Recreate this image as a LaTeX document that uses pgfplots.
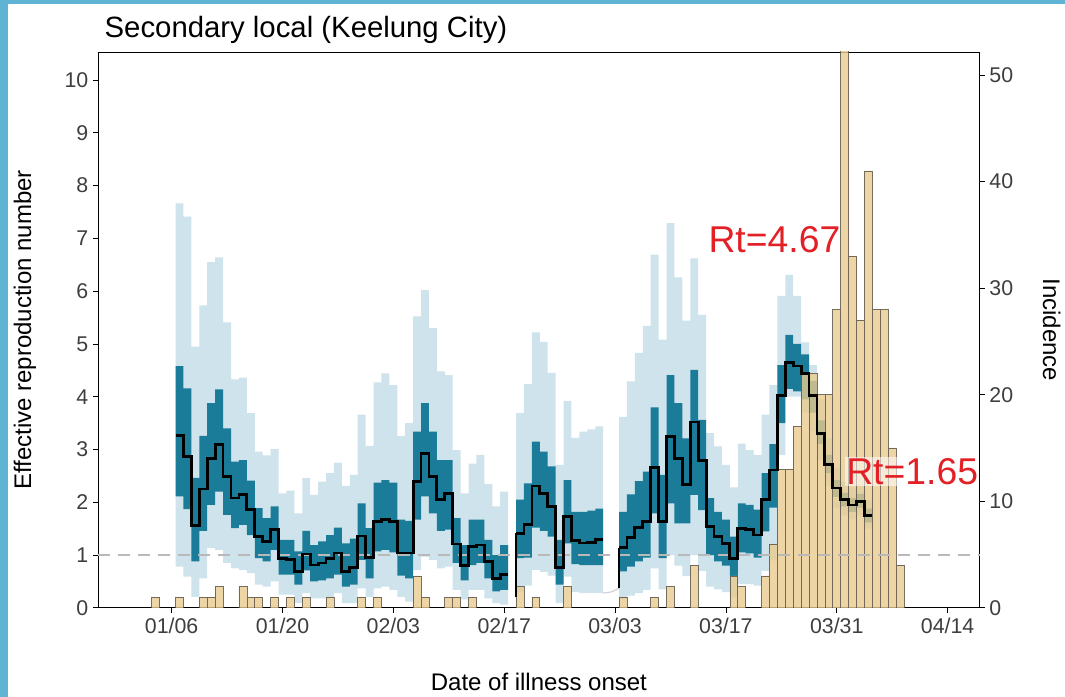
\documentclass[border=0pt]{standalone}
\usepackage{fontspec}
\setmainfont{Liberation Sans}
\usepackage{pgfplots}
\pgfplotsset{compat=1.18}
\usepackage{pgfplotstable}
\usepgfplotslibrary{fillbetween}

\definecolor{ciLight}{RGB}{206,227,235}
\definecolor{ciDark}{RGB}{27,124,153}
\definecolor{incTan}{RGB}{233,202,142}
\definecolor{incEdge}{RGB}{85,78,68}
\definecolor{rtRed}{RGB}{226,32,38}
\definecolor{tickGrey}{RGB}{62,62,62}
\definecolor{frameBlue}{RGB}{95,180,212}

% Rt estimates, one row per day (x = left edge of the day), last row closes the step
\pgfplotstableread{
x    lo95 lo50 med  hi50 hi95
6.5  0.78 2.11 3.26 4.58 7.66
7.5  0.59 1.87 2.87 4.16 7.41
8.5  0.21 0.88 1.56 2.46 4.95
9.5  0.56 1.46 2.25 3.26 5.73
10.5 1.13 1.95 2.83 3.88 6.55
11.5 1.10 2.20 3.09 4.14 6.64
12.5 0.85 1.76 2.49 3.40 5.41
13.5 0.75 1.51 2.08 2.77 4.33
14.5 0.72 1.57 2.14 2.80 4.36
15.5 0.66 1.38 1.86 2.41 3.69
16.5 0.44 0.94 1.35 1.89 2.96
17.5 0.40 0.88 1.26 1.70 2.89
18.5 0.50 1.10 1.48 1.92 3.01
19.5 0.25 0.63 0.94 1.29 2.17
20.5 0.25 0.63 0.92 1.29 2.22
21.5 0.09 0.44 0.69 1.07 1.79
22.5 0.28 0.71 1.02 1.46 2.46
23.5 0.18 0.50 0.81 1.19 2.14
24.5 0.18 0.52 0.85 1.26 2.39
25.5 0.21 0.56 0.94 1.38 2.55
26.5 0.28 0.63 1.04 1.52 2.75
27.5 0.09 0.40 0.69 1.22 2.31
28.5 0.09 0.44 0.77 1.31 2.52
29.5 0.37 0.91 1.36 1.98 3.66
30.5 0.21 0.56 0.96 1.51 3.07
31.5 0.37 1.07 1.64 2.37 4.27
32.5 0.40 1.10 1.68 2.42 4.44
33.5 0.34 1.05 1.64 2.37 4.22
34.5 0.21 0.61 1.04 1.67 3.26
35.5 0.12 0.56 1.04 1.65 3.50
36.5 0.72 1.67 2.39 3.34 5.52
37.5 0.97 2.11 2.93 3.88 6.02
38.5 0.91 1.79 2.49 3.34 5.30
39.5 0.75 1.46 2.06 2.80 4.48
40.5 0.78 1.48 2.16 2.80 4.41
41.5 0.34 0.85 1.21 1.70 2.99
42.5 0.16 0.52 0.80 1.19 2.17
43.5 0.34 0.81 1.16 1.67 2.73
44.5 0.34 0.85 1.19 1.67 2.90
45.5 0.18 0.56 0.88 1.29 2.35
46.5 0.09 0.31 0.56 1.00 1.92
47.5 0.06 0.34 0.63 1.19 2.20
48.5 0.06 0.34 0.63 1.19 2.20
}\segA

\pgfplotstableread{
x    lo95 lo50 med  hi50 hi95
49.5 0.30 0.94 1.41 2.05 3.69
50.5 0.42 0.95 1.58 2.36 4.24
51.5 0.72 1.52 2.31 3.15 5.22
52.5 0.68 1.46 2.17 2.96 5.04
53.5 0.61 1.35 1.92 2.68 4.45
54.5 0.09 0.44 0.77 1.29 2.71
55.5 0.59 1.22 1.73 2.42 3.92
56.5 0.30 0.83 1.27 1.82 3.22
57.5 0.28 0.81 1.23 1.82 3.34
58.5 0.28 0.81 1.24 1.84 3.38
59.5 0.28 0.81 1.29 1.88 3.44
60.5 0.28 0.81 1.29 1.88 3.44
}\segB

\pgfplotstableread{
x    lo95 lo50 med  hi50 hi95
62.5 0.16 0.69 1.14 1.82 3.62
63.5 0.23 0.78 1.34 2.15 4.29
64.5 0.28 0.88 1.52 2.40 4.83
65.5 0.34 0.95 1.64 2.58 5.34
66.5 0.75 1.79 2.66 3.80 6.69
67.5 0.35 0.94 1.64 2.52 5.08
68.5 1.00 1.98 3.24 4.41 7.29
69.5 0.80 1.60 2.83 3.88 6.26
70.5 0.60 1.60 2.33 3.21 5.44
71.5 1.00 2.14 3.52 4.51 6.62
72.5 0.70 1.85 2.79 3.56 5.55
73.5 0.40 1.00 1.54 2.08 3.31
74.5 0.35 0.88 1.35 1.82 3.06
75.5 0.30 0.80 1.22 1.67 2.71
76.5 0.20 0.60 0.94 1.35 2.28
77.5 0.45 1.05 1.51 1.98 3.11
78.5 0.45 1.03 1.48 1.95 2.99
79.5 0.42 0.95 1.38 1.86 2.90
80.5 0.70 1.45 2.06 2.55 3.66
81.5 0.90 1.90 2.61 3.10 4.22
82.5 2.90 3.50 4.03 4.60 5.91
83.5 4.00 4.15 4.65 5.17 6.31
84.5 4.00 4.10 4.58 5.00 5.91
85.5 3.70 3.95 4.44 4.80 5.03
86.5 3.35 3.70 4.03 4.30 4.60
87.5 2.80 3.10 3.31 3.55 3.95
88.5 2.30 2.55 2.71 2.90 3.20
89.5 1.90 2.10 2.27 2.42 2.65
90.5 1.75 1.92 2.05 2.18 2.38
91.5 1.68 1.82 1.95 2.08 2.28
92.5 1.75 1.90 2.02 2.16 2.35
93.5 1.50 1.62 1.75 1.88 2.05
94.5 1.50 1.62 1.75 1.88 2.05
}\segC

% daily incidence (day of year, cases)
\pgfplotstableread{
day cases
4 1
7 1
10 1
11 1
12 2
15 2
16 1
17 1
19 1
21 1
23 1
26 1
30 1
32 1
37 3
38 1
41 1
42 1
44 1
50 2
52 1
56 2
63 1
67 1
69 2
72 4
77 3
78 2
81 3
82 6
83 13
84 13
85 17
86 22
87 22
88 20
89 20
90 28
91 55
92 33
93 27
94 41
95 28
96 28
97 15
98 4
}\incidence

\pgfplotsset{
  keelung/.style={
    width=661.5pt,height=417pt,scale only axis,
    xmin=-3.3,xmax=108.06,
    tick align=outside,major tick length=3.75pt,
    tick style={black,line width=0.6pt},
    ticklabel style={font=\fontsize{16}{18}\selectfont,text=tickGrey},
    axis line style={line width=0.7pt},
    /pgf/number format/assume math mode=true
  }
}

\begin{document}
\begin{tikzpicture}
\path (-73.5pt,-66.75pt) rectangle (725.25pt,456pt);
\fill[frameBlue] (-73.5pt,-66.75pt) rectangle (-67.5pt,456pt);
\fill[frameBlue] (-73.5pt,453pt) rectangle (725.25pt,456pt);

% Rt bands
\begin{axis}[keelung,ymin=0,ymax=10.53,
  xtick={6,20,34,48,62,76,90,104},
  xticklabels={01/06,01/20,02/03,02/17,03/03,03/17,03/31,04/14},
  ytick={0,...,10},xtick pos=left,ytick pos=left]
\addplot[draw=none,const plot,name path=aH] table[x=x,y=hi95]{\segA};
\addplot[draw=none,const plot,name path=aL] table[x=x,y=lo95]{\segA};
\addplot[fill=ciLight,draw=none] fill between[of=aH and aL];
\addplot[draw=none,const plot,name path=bH] table[x=x,y=hi95]{\segB};
\addplot[draw=none,const plot,name path=bL] table[x=x,y=lo95]{\segB};
\addplot[fill=ciLight,draw=none] fill between[of=bH and bL];
\addplot[draw=none,const plot,name path=cH] table[x=x,y=hi95]{\segC};
\addplot[draw=none,const plot,name path=cL] table[x=x,y=lo95]{\segC};
\addplot[fill=ciLight,draw=none] fill between[of=cH and cL];

\addplot[draw=none,const plot,name path=aH2] table[x=x,y=hi50]{\segA};
\addplot[draw=none,const plot,name path=aL2] table[x=x,y=lo50]{\segA};
\addplot[fill=ciDark,draw=none] fill between[of=aH2 and aL2];
\addplot[draw=none,const plot,name path=bH2] table[x=x,y=hi50]{\segB};
\addplot[draw=none,const plot,name path=bL2] table[x=x,y=lo50]{\segB};
\addplot[fill=ciDark,draw=none] fill between[of=bH2 and bL2];
\addplot[draw=none,const plot,name path=cH2] table[x=x,y=hi50]{\segC};
\addplot[draw=none,const plot,name path=cL2] table[x=x,y=lo50]{\segC};
\addplot[fill=ciDark,draw=none] fill between[of=cH2 and cL2];
\end{axis}

% incidence bars, right axis
\begin{axis}[keelung,ymin=0,ymax=52.16,
  axis y line*=right,axis x line=none,
  ytick={0,10,...,50}]
\addplot[ybar,bar width=1,fill=incTan,draw=incEdge,line width=0.5pt,opacity=0.8]
  table[x=day,y=cases]{\incidence};
\end{axis}

% median line, threshold, annotations
\begin{axis}[keelung,hide axis,ymin=0,ymax=10.53,clip=false]
\addplot[gray!55,dash pattern=on 9pt off 6pt,line width=1.2pt] coordinates {(-3.3,1) (108.06,1)};
\addplot[gray!35,line width=0.9pt] coordinates {(60.5,0.28) (61.5,0.30) (62.5,0.37)};
\addplot[black,line width=2.1pt,const plot] table[x=x,y=med]{\segA};
\addplot[black,line width=2.1pt,const plot] table[x=x,y=med]{\segB};
\addplot[black,line width=2.1pt,const plot] table[x=x,y=med]{\segC};
\addplot[black,line width=2.1pt] coordinates {(49.5,0.2) (49.5,1.41)};
\addplot[black,line width=2.1pt] coordinates {(62.5,0.37) (62.5,1.14)};
\node[anchor=west,text=rtRed,font=\fontsize{28}{30}\selectfont,inner sep=1pt]
  at (axis cs:73.6,6.97) {Rt=4.67};
\node[anchor=west,text=rtRed,font=\fontsize{28}{30}\selectfont,inner sep=1pt,
  fill=white,fill opacity=0.55,text opacity=1]
  at (axis cs:91.0,2.58) {Rt=1.65};
\end{axis}

\node[font=\fontsize{22}{26}\selectfont,anchor=base west] at (1.5pt,427.5pt) {Secondary local (Keelung City)};
\node[font=\fontsize{18}{21}\selectfont,rotate=90] at (-54.75pt,208.5pt) {Effective reproduction number};
\node[font=\fontsize{18}{21}\selectfont,rotate=-90] at (715.5pt,208.5pt) {Incidence};
\node[font=\fontsize{18}{21}\selectfont] at (330.75pt,-55.5pt) {Date of illness onset};
\end{tikzpicture}
\end{document}
